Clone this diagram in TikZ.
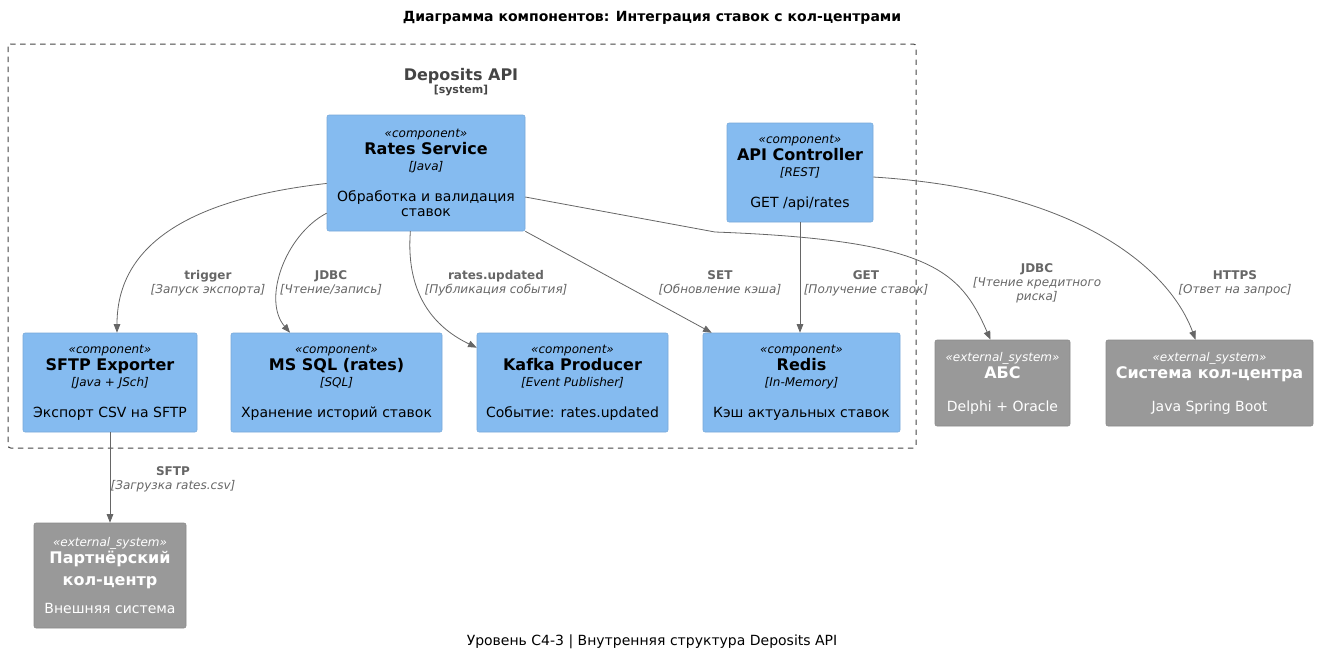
\documentclass[tikz,border=0pt]{standalone}
\usepackage{fontspec}
\setmainfont{DejaVu Sans}
\usetikzlibrary{arrows.meta}

\definecolor{compfill}{HTML}{85BBF0}
\definecolor{compline}{HTML}{78A8D8}
\definecolor{extfill}{HTML}{999999}
\definecolor{extline}{HTML}{8A8A8A}
\definecolor{relgray}{HTML}{666666}
\definecolor{bndgray}{HTML}{444444}

\newcommand\stereofont{\fontsize{9}{10}\selectfont\itshape}
\newcommand\namefont{\fontsize{12}{14}\selectfont\bfseries}
\newcommand\techfont{\fontsize{9}{10}\selectfont\itshape}

\begin{document}
\begin{tikzpicture}[x=0.75pt,y=-0.75pt,
    comp/.style={rectangle,rounded corners=1.5pt,fill=compfill,draw=compline,
      align=center,inner sep=0pt,font=\fontsize{10.5}{12}\selectfont},
    extsys/.style={rectangle,rounded corners=1.5pt,fill=extfill,draw=extline,
      text=white,align=center,inner sep=0pt,font=\fontsize{10.5}{12}\selectfont},
    rel/.style={draw=relgray,line width=0.6pt,-{Triangle[length=6.5pt,width=5pt]}},
    rellabel/.style={text=relgray,align=center,font=\fontsize{9}{10.5}\selectfont}]

      \useasboundingbox (0,0) rectangle (1318,658);

      % Title and footer
      \node[font=\fontsize{10.5}{12}\selectfont\bfseries] (title) at (652,18)
        {Диаграмма компонентов: Интеграция ставок с кол-центрами};
      \node[font=\fontsize{10.5}{12}\selectfont] (footer) at (652,642)
        {Уровень С4-3 | Внутренняя структура Deposits API};

      % Boundary
      \draw[bndgray,dash pattern=on 4pt off 3.5pt,rounded corners=2pt,line width=0.75pt]
        (8,44) rectangle (916,448);
      \node[text=bndgray,font=\fontsize{12}{14}\selectfont\bfseries] (bndname) at (461,76) {Deposits API};
      \node[text=bndgray,font=\fontsize{8.25}{10}\selectfont\bfseries] (bndtype) at (461,91) {[system]};

      % Nodes
      \begin{scope}[every node/.style={comp,minimum height=74.25pt}]
        \node[minimum width=148.5pt,minimum height=87pt] (rates) at (426,173)
          {{\stereofont «component»}\\[0.4pt]{\namefont Rates Service}\\{\techfont [Java]}\\[11.25pt]Обработка и валидация\\[-0.75pt]ставок};
        \node[minimum width=109.5pt] (api) at (800,172.5)
          {{\stereofont «component»}\\[0.4pt]{\namefont API Controller}\\{\techfont [REST]}\\[11.25pt]GET /api/rates};
        \node[minimum width=130.5pt] (sftp) at (110,382.5)
          {{\stereofont «component»}\\[0.4pt]{\namefont SFTP Exporter}\\{\techfont [Java + JSch]}\\[11.25pt]Экспорт CSV на SFTP};
        \node[minimum width=158.25pt] (mssql) at (336.5,382.5)
          {{\stereofont «component»}\\[0.4pt]{\namefont MS SQL (rates)}\\{\techfont [SQL]}\\[11.25pt]Хранение историй ставок};
        \node[minimum width=143.25pt] (kafka) at (572.5,382.5)
          {{\stereofont «component»}\\[0.4pt]{\namefont Kafka Producer}\\{\techfont [Event Publisher]}\\[11.25pt]Событие: rates.updated};
        \node[minimum width=147.75pt] (redis) at (801.5,382.5)
          {{\stereofont «component»}\\[0.4pt]{\namefont Redis}\\{\techfont [In-Memory]}\\[11.25pt]Кэш актуальных ставок};
      \end{scope}

      \begin{scope}[every node/.style={extsys,minimum height=64.5pt}]
        \node[minimum width=101.25pt] (abs) at (1002.5,383)
          {{\stereofont «external\_system»}\\[0.75pt]{\namefont АБС}\\[12.75pt]Delphi + Oracle};
        \node[minimum width=155.25pt] (callc) at (1209.5,383)
          {{\stereofont «external\_system»}\\[0.75pt]{\namefont Система кол-центра}\\[12.75pt]Java Spring Boot};
        \node[minimum width=114pt,minimum height=78.75pt] (partner) at (110,575.5)
          {{\stereofont «external\_system»}\\[0.75pt]{\namefont Партнёрский}\\[4.5pt]{\namefont кол-центр}\\[9pt]Внешняя система};
      \end{scope}

      % Edges
      \begin{scope}[every path/.style={rel}]
        \path (rates.186) .. controls (180,200) and (117,250) .. (sftp.82);
        \path (rates.202) .. controls (285,235) and (262,300) .. (mssql.133);
        \path (rates.255) .. controls (405,300) and (440,330) .. (kafka.160);
        \path (rates.south east) -- ([xshift=6.75pt]redis.north west);
        \path (api.south) -- (api.south |- redis.north);
        \path (rates.east |- 0,197) -- (715,232) .. controls (930,240) and (960,270) .. ([xshift=-9pt]abs.north);
        \path (api.east |- 0,177) .. controls (1080,190) and (1170,270) .. ([xshift=-10.5pt]callc.north);
        \path (sftp.south) -- (partner.north);
      \end{scope}

      % Edge labels
      \begin{scope}[every node/.style={rellabel}]
        \node (ltrigger) at (208,283) {{\bfseries trigger}\\{\itshape [Запуск экспорта]}};
        \node (ljdbc) at (331,283) {{\bfseries JDBC}\\{\itshape [Чтение/запись]}};
        \node (lkafka) at (496,283) {{\bfseries rates.updated}\\{\itshape [Публикация события]}};
        \node (lset) at (720,283) {{\bfseries SET}\\{\itshape [Обновление кэша]}};
        \node (lget) at (866,283) {{\bfseries GET}\\{\itshape [Получение ставок]}};
        \node (labs) at (1037,283) {{\bfseries JDBC}\\{\itshape [Чтение кредитного}\\{\itshape риска]}};
        \node (lhttps) at (1235,283) {{\bfseries HTTPS}\\{\itshape [Ответ на запрос]}};
        \node (lsftp) at (173,479.5) {{\bfseries SFTP}\\{\itshape [Загрузка rates.csv]}};
      \end{scope}

    \end{tikzpicture}
\end{document}
